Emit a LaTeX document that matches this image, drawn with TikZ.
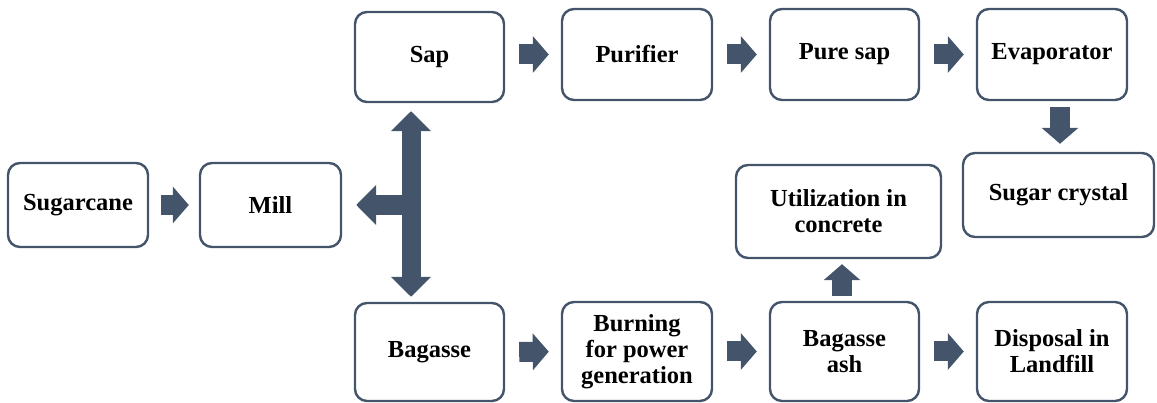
\documentclass[tikz,border=0pt]{standalone}
\usepackage{fontspec}
\setmainfont{Liberation Serif}
\usetikzlibrary{arrows.meta}
\definecolor{slate}{HTML}{44546A}
\begin{document}
\begin{tikzpicture}[x=1pt,y=-1pt,
    every node/.style={font=\bfseries\fontsize{24.5}{26}\selectfont},
    box/.style={draw=slate,line width=2.4pt,rounded corners=12pt,align=center,inner sep=0pt},
    blk/.style={slate,line width=20pt,-{Triangle[length=16pt,width=36pt]}},
    bigtip/.tip={Triangle[length=20pt,width=39pt]}]
    \useasboundingbox (0,0) rectangle (1157,403);
    % top row
    \node[box,minimum width=149pt,minimum height=90pt] (sap) at (429.5,57) {Sap};
    \node[box,minimum width=150pt,minimum height=91pt] (purifier) at (637,54.5) {Purifier};
    \node[box,minimum width=149pt,minimum height=91pt] (puresap) at (844.5,54.5) {Pure sap};
    \node[box,minimum width=150pt,minimum height=91pt] (evap) at (1052,54.5) {Evaporator};
    % middle row
    \node[box,minimum width=140pt,minimum height=84pt] (cane) at (78,205) {Sugarcane};
    \node[box,minimum width=141pt,minimum height=84pt] (mill) at (270.5,205) {Mill};
    \node[box,minimum width=205pt,minimum height=93pt] (util) at (838.5,211.5) {Utilization in\\concrete};
    \node[box,minimum width=191pt,minimum height=84pt] (crystal) at (1058.5,195) {Sugar crystal};
    % bottom row
    \node[box,minimum width=149pt,minimum height=98pt] (bagasse) at (429.5,352) {Bagasse};
    \node[box,minimum width=150pt,minimum height=99pt] (burning) at (637,351.5) {Burning\\for power\\generation};
    \node[box,minimum width=149pt,minimum height=99pt] (ash) at (844.5,351.5) {Bagasse\\ash};
    \node[box,minimum width=150pt,minimum height=99pt] (disposal) at (1052,351.5) {Disposal in\\Landfill};
    \coordinate (jn) at ([xshift=-18.5pt]sap.south |- mill.east);

    % block arrows
    \draw[blk,shorten <=12pt,shorten >=10pt] (cane.east) -- (mill.west);
    \draw[blk,shorten <=14pt,shorten >=12pt] (sap.east |- purifier.east) -- (purifier.west);
    \draw[blk,shorten <=14pt,shorten >=12pt] (purifier.east) -- (puresap.west);
    \draw[blk,shorten <=14pt,shorten >=12pt] (puresap.east) -- (evap.west);
    \draw[blk,shorten <=14pt,shorten >=12pt] (bagasse.east) -- (burning.west);
    \draw[blk,shorten <=14pt,shorten >=12pt] (burning.east) -- (ash.west);
    \draw[blk,shorten <=14pt,shorten >=12pt] (ash.east) -- (disposal.west);
    \draw[blk,shorten <=6pt,shorten >=8pt] ([xshift=8pt]evap.south) -- ([xshift=8pt]evap.south |- crystal.north);
    \draw[blk,shorten <=5pt,shorten >=5pt] ([xshift=-2.5pt]ash.north) -- ([xshift=-2.5pt]ash.north |- util.south);
    % split from the mill
    \draw[slate,line width=19pt,bigtip-bigtip,shorten <=8pt,shorten >=5pt]
        ([xshift=-18.5pt]sap.south) -- ([xshift=-18.5pt]sap.south |- bagasse.north);
    \draw[slate,line width=20pt,-bigtip,shorten >=14pt] (jn) -- (mill.east);
\end{tikzpicture}
\end{document}
